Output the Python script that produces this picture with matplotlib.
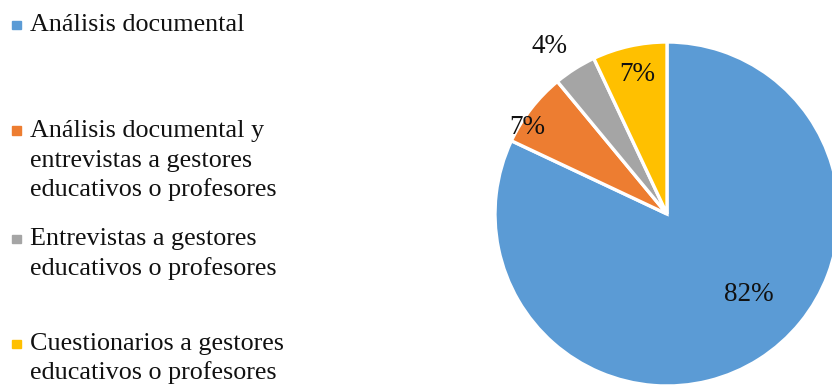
import matplotlib
matplotlib.use('Agg')
import matplotlib.pyplot as plt
import numpy as np

# Técnicas de recolección de datos
categorias = [['Análisis documental'],
              ['Análisis documental y', 'entrevistas a gestores', 'educativos o profesores'],
              ['Entrevistas a gestores', 'educativos o profesores'],
              ['Cuestionarios a gestores', 'educativos o profesores']]
porcentajes = [82, 7, 4, 7]
etiquetas = ['82%', '7%', '4%', '7%']
colores = ['#5B9BD5', '#ED7D31', '#A5A5A5', '#FFC000']

plt.rcParams['font.family'] = ['Liberation Serif', 'DejaVu Serif']

W, H = 832, 387
fig = plt.figure(figsize=(W / 100, H / 100), dpi=100)

# pie axes: centre (667, 214) px, radius 172 px
cx, cy, r = 667, H - 214, 172
ax = fig.add_axes([(cx - r) / W, (cy - r) / H, 2 * r / W, 2 * r / H])
wedges, _ = ax.pie(porcentajes, colors=colores, startangle=90, counterclock=False,
                   radius=1.0, wedgeprops=dict(edgecolor='white', linewidth=2.4))
ax.set_xlim(-1, 1)
ax.set_ylim(-1, 1)
ax.set_aspect('equal')
ax.axis('off')

# data labels
radios = [0.666, 0.958, 1.19, 0.832]
giro = [13.3, 6, 2.8, -0.5]
for w, txt, rr, g in zip(wedges, etiquetas, radios, giro):
    ang = np.deg2rad((w.theta1 + w.theta2) / 2 + g)
    ax.text(rr * np.cos(ang), rr * np.sin(ang), txt, ha='center', va='center',
            fontsize=19.5, color='#111111', clip_on=False)

# legend on the left, one text per line (baselines in px from top)
base_y = [31, 137, 245, 350]
paso = 29.5
for lineas, col, y in zip(categorias, colores, base_y):
    fig.patches.append(plt.Rectangle((12 / W, 1 - (y - 2) / H), 8.5 / W, 8.5 / H,
                                     transform=fig.transFigure, color=col))
    for i, linea in enumerate(lineas):
        fig.text(30 / W, 1 - (y + i * paso) / H, linea, ha='left', va='baseline',
                 fontsize=18.8, color='#111111')

fig.savefig('out.png', dpi=100)
